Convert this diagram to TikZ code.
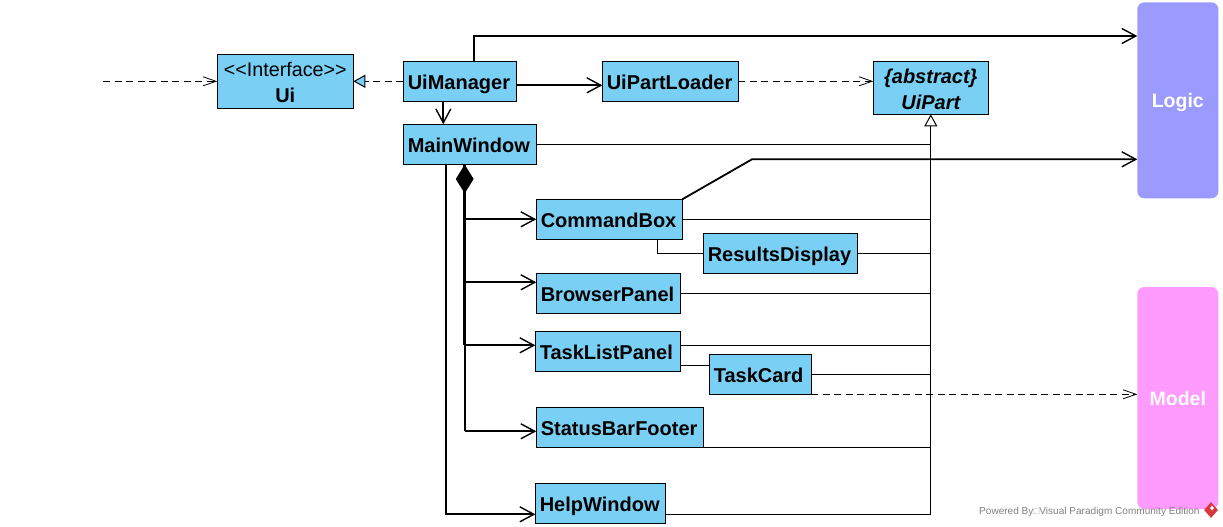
\documentclass[tikz,border=0pt]{standalone}
\usepackage{fontspec}
\setmainfont{Liberation Sans}
\usetikzlibrary{positioning, arrows.meta, shapes.geometric}

\definecolor{uiBlue}{HTML}{7ACFF5}
\definecolor{logicBlue}{HTML}{9A9AFF}
\definecolor{modelPink}{HTML}{FF9AFF}
\definecolor{logoRed}{HTML}{D9363E}

\tikzset{
    titlebox/.style={rectangle, draw, fill=uiBlue, line width=1pt, inner sep=0pt, outer sep=0pt,
        align=center, font=\fontsize{20}{26}\selectfont\bfseries},
    classbox/.style={titlebox, minimum height=40pt, minimum width=#1, text width=#1-9pt, inner xsep=4.5pt,
        align=left, text height=18pt, text depth=2pt},
    compbox/.style={rectangle, rounded corners=7pt, inner sep=0pt, outer sep=0pt, minimum width=81pt,
        text=white, text height=16pt, text depth=2pt, font=\fontsize{19.5}{24}\selectfont\bfseries},
    bigarrow/.style={-{Straight Barb[length=14pt, width=15pt, line width=1.4pt]}, line width=1.8pt},
    deparrow/.style={-{Straight Barb[length=13pt, width=9pt, line width=.8pt]}, line width=1pt, dash pattern=on 7pt off 4.5pt},
    inherit/.style={line width=1pt}
}

\begin{document}
\begin{tikzpicture}[x=1pt, y=-1pt, node distance=100pt, on grid]
    \useasboundingbox (0,0) rectangle (1223,527);

    % Define classes
    \node[classbox=113.4pt] (uiManager) at (460,81.3) {UiManager};
    \node[titlebox, minimum width=136pt, minimum height=54pt] (ui) [left=174.7pt of uiManager]
        {\rule{0pt}{17pt}\fontsize{19.7}{26}\selectfont\mdseries <{}<Interface>{}>\\Ui};
    \node[classbox=136pt] (uiPartLoader) [right=210.3pt of uiManager] {UiPartLoader};
    \node[titlebox, minimum width=115pt, minimum height=53pt] (uiPart) [below right=6.5pt and 260.5pt of uiPartLoader]
        {\rule{0pt}{17pt}\itshape\{abstract\}\\\itshape UiPart};
    \node[classbox=133.4pt] (mainWindow) [below right=63pt and 10pt of uiManager] {MainWindow};
    \node[classbox=146pt] (commandBox) [below right=75pt and 139.3pt of mainWindow] {CommandBox};
    \node[classbox=154pt] (resultsDisplay) [below right=34pt and 171pt of commandBox] {ResultsDisplay};
    \node[classbox=144pt] (browserPanel) [below left=74pt and 1pt of commandBox] {BrowserPanel};
    \node[classbox=145pt] (taskListPanel) [below left=58pt and .5pt of browserPanel] {TaskListPanel};
    \node[classbox=102pt] (taskCard) [below right=23pt and 152.5pt of taskListPanel] {TaskCard};
    \node[classbox=167pt] (statusBarFooter) [below right=76pt and 12pt of taskListPanel] {StatusBarFooter};
    \node[classbox=130pt] (helpWindow) [below left=76pt and 19.5pt of statusBarFooter] {HelpWindow};

    % Define components
    \node[compbox, fill=logicBlue, minimum height=196pt] (logic) at (1177.8,100.3) {Logic};
    \node[compbox, fill=modelPink, minimum height=222pt] (model) [below=297.7pt of logic] {Model};

    % Define free ends
    \coordinate (uiEntry) at (103,81.3);
    \coordinate (logicBend) at (752,159.3);
    \coordinate (partFoot) at ([yshift=-11pt]helpWindow.east -| uiPart.south);
    \coordinate (trunkTop) at ([xshift=-5.3pt]mainWindow.south);
    \coordinate (helpTop) at ([xshift=-23.7pt]mainWindow.south);

    % Define dependencies
    \draw[deparrow] (uiEntry) -- (ui.west);
    \draw[line width=1pt, dash pattern=on 7pt off 4.5pt, -{Triangle[length=12pt, width=13pt, fill=uiBlue, line width=1pt]}]
        (uiManager.west) -- (ui.east);
    \draw[deparrow] (uiPartLoader.east) -- (uiPartLoader.east -| uiPart.west);
    \draw[deparrow] (taskCard.south east) -- (taskCard.south east -| model.west);

    % Define associations
    \draw[bigarrow] ([xshift=14.3pt]uiManager.north) |- ([yshift=64.3pt]logic.west);
    \draw[bigarrow] (commandBox.north east) -- (logicBend) -- (logicBend -| logic.west);
    \draw[bigarrow] ([yshift=-4pt]uiManager.east) -- ([yshift=-4pt]uiPartLoader.west);
    \draw[bigarrow] ([xshift=-16.7pt]uiManager.south) -- ([xshift=-16.7pt]uiManager.south |- mainWindow.north);
    \draw[bigarrow] (helpTop) |- ([yshift=-11pt]helpWindow.west);

    % Define composition
    \draw[line width=3pt] (trunkTop) -- (trunkTop |- 0,345.3);
    \draw[line width=2pt] (trunkTop |- 0,345.3) -- (trunkTop |- 0,431.3);
    \node[diamond, fill=black, inner sep=0pt, minimum width=18pt, minimum height=29pt, anchor=north] (trunkHead) at (trunkTop) {};
    \draw[bigarrow] (trunkTop |- commandBox.west) -- (commandBox.west);
    \draw[bigarrow] (trunkTop |- 0,282.3) -- (browserPanel.west |- 0,282.3);
    \draw[bigarrow] (trunkTop |- 0,345.3) -- (taskListPanel.west |- 0,345.3);
    \draw[bigarrow] (trunkTop |- 0,431.3) -- (statusBarFooter.west |- 0,431.3);

    % Define nested links
    \draw[inherit] ([xshift=48pt]commandBox.south) |- (resultsDisplay.west);
    \draw[inherit] ([yshift=-13.7pt]taskListPanel.east) -- ([yshift=-13.7pt]taskListPanel.east -| taskCard.west);

    % Define inheritance
    \draw[inherit, -{Triangle[length=12pt, width=13pt, fill=white, line width=1pt]}] (partFoot) -- (uiPart.south);
    \path[inherit, draw]
    (mainWindow.east) -- (mainWindow.east -| partFoot)
    (commandBox.east) -- (commandBox.east -| partFoot)
    (resultsDisplay.east) -- (resultsDisplay.east -| partFoot)
    (browserPanel.east) -- (browserPanel.east -| partFoot)
    ([yshift=6pt]taskListPanel.east) -- ([yshift=6pt]taskListPanel.east -| partFoot)
    (taskCard.east) -- (taskCard.east -| partFoot)
    (statusBarFooter.south east) -- (statusBarFooter.south east -| partFoot)
    ([yshift=-11pt]helpWindow.east) -- (partFoot);

    % Define watermark
    \node[anchor=west, inner sep=0pt, text=black!50, font=\fontsize{10.05}{12}\selectfont] (powered) at (979,511.7)
        {Powered By\textcolor{black!30}{□}Visual Paradigm Community Edition};
    \node[diamond, fill=logoRed, inner sep=0pt, minimum width=14pt, minimum height=16pt] (logo) at (1211,510) {};
    \node[diamond, fill=white, inner sep=0pt, minimum width=4pt, minimum height=5pt] (logoMark) at (1212,508) {};
\end{tikzpicture}
\end{document}
